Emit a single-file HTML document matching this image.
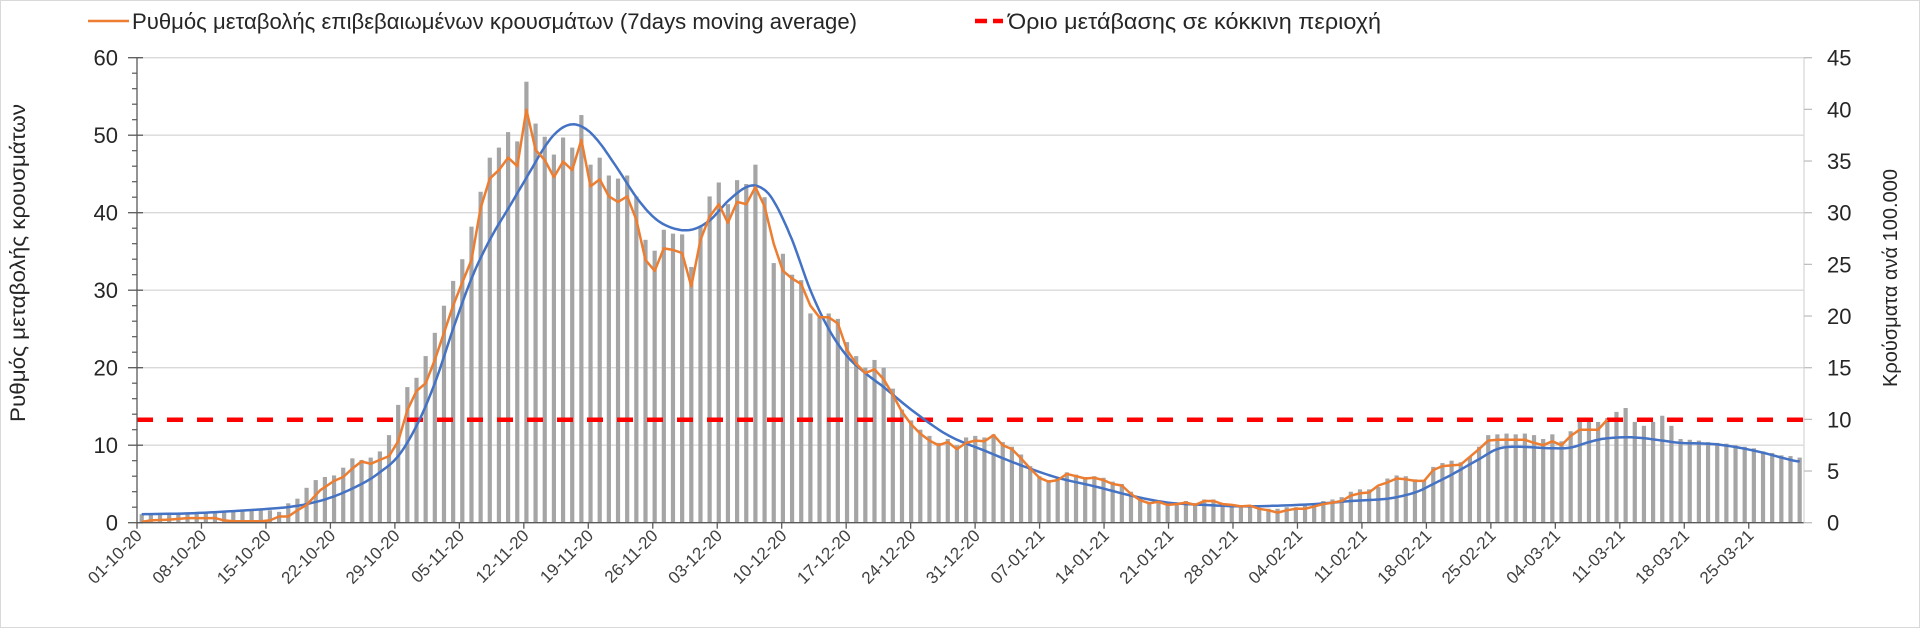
<!DOCTYPE html>
<html><head><meta charset="utf-8">
<style>
html,body{margin:0;padding:0;background:#fff;}
svg{display:block;font-family:"Liberation Sans",sans-serif;}
</style></head>
<body>
<svg id="c" width="1920" height="628" xmlns="http://www.w3.org/2000/svg">
<rect x="0.5" y="0.5" width="1919" height="627" fill="#fff" stroke="#d9d9d9"/>
<g id="grid"></g>
<g id="bars"></g>
<line x1="137" y1="419.7" x2="1804" y2="419.7" stroke="#ff0000" stroke-width="4.5" stroke-dasharray="16,14"/>
<polyline id="blue" fill="none" stroke="#4472c4" stroke-width="2.5" stroke-linejoin="round"/>
<polyline id="orange" fill="none" stroke="#ed7d31" stroke-width="2.5" stroke-linejoin="round"/>
<g id="axes"></g>
<line x1="88" y1="21" x2="129" y2="21" stroke="#ed7d31" stroke-width="2.5"/>
<text x="132" y="29" font-size="22" fill="#262626" textLength="725" lengthAdjust="spacingAndGlyphs">Ρυθμός μεταβολής επιβεβαιωμένων κρουσμάτων (7days moving average)</text>
<line x1="975" y1="21" x2="1003" y2="21" stroke="#ff0000" stroke-width="4.5" stroke-dasharray="12,6"/>
<text x="1008" y="29" font-size="22" fill="#262626" textLength="373" lengthAdjust="spacingAndGlyphs">Όριο μετάβασης σε κόκκινη περιοχή</text>
<text transform="translate(25,263) rotate(-90)" text-anchor="middle" font-size="21" fill="#262626" textLength="318" lengthAdjust="spacingAndGlyphs">Ρυθμός μεταβολής κρουσμάτων</text>
<text transform="translate(1897,278) rotate(-90)" text-anchor="middle" font-size="20" fill="#262626">Κρούσματα ανά 100.000</text>
</svg>
<script>
var NS="http://www.w3.org/2000/svg";
function el(p,t,a,txt){var e=document.createElementNS(NS,t);for(var k in a)e.setAttribute(k,a[k]);if(txt!==undefined)e.textContent=txt;document.getElementById(p).appendChild(e);return e;}
var Y0=522.7,PU=7.75;
function y(v){return Y0-v*PU;}
function bx(i){return 141.7+9.16*i;}
var bars=[1.1,1.1,1.1,1.2,1.2,1.3,1.3,1.4,1.4,1.5,1.5,1.5,1.6,1.6,
1.6,1.4,2.5,3.1,4.5,5.5,5.9,6.1,7.1,8.3,8.1,8.4,9.2,11.3,15.2,17.5,18.7,21.5,24.5,28,31.2,34,38.2,42.7,47.1,48.4,50.4,49.2,56.9,51.5,49.8,47.5,49.7,48.4,52.6,46.2,47.1,44.8,44.4,44.8,42.1,36.5,35.1,37.8,37.3,37.2,33,38.2,42.1,43.9,41.1,44.2,43.7,46.2,42.0,33.5,34.7,32,31.3,27,26.5,27,26.3,23.3,21.5,20,21,20,17.3,14.6,13.2,12,11.2,10.3,10.8,10,11,11.2,11,11.4,10.4,9.8,8.8,7.3,6,5.5,5.8,6.5,6.2,5.9,6,5.8,5.3,5,4,3.2,2.7,2.9,2.5,2.3,2.8,2.3,3,3,2.4,2.4,2.2,2.2,1.8,1.8,1.8,2,2,2.2,2.4,2.8,3,3.3,4,4.3,4.3,4.6,5.7,6.1,6.0,5.6,5.5,7.2,7.7,8,7.8,8.5,9.8,11.3,11.4,11.5,11.4,11.5,11.3,10.8,11.4,10.5,11.8,13,13,13,13.5,14.3,14.8,13,12.5,13,13.8,12.5,10.8,10.7,10.6,10.4,10.3,10.2,10,9.8,9.6,9.2,9,8.7,8.6,8.4];
for(var v=10;v<=60;v+=10)el("grid","line",{x1:137,x2:1804,y1:y(v),y2:y(v),stroke:"#d9d9d9","stroke-width":1.3});
bars.forEach(function(v,i){el("bars","rect",{x:bx(i)-2.1,y:y(v),width:4.2,height:v*PU,fill:"#a5a5a5"});});
var blueK=[[0,1.1],[5,1.2],[10,1.5],[15,1.9],[18,2.4],[21,3.4],[24,5.0],[26,6.5],[28,8.6],[30,12.5],[32,18],[34,25],[36,31.5],[38,36.5],[40,40.5],[42,44.5],[44,48.5],[45.5,50.6],[47,51.4],[48.5,50.8],[50,49],[52,45.6],[54,42],[56,39.3],[58,38],[60,37.8],[62,39],[64,41.5],[66,43.3],[67.5,43.3],[69,41.5],[71,36.5],[73,30],[75,25],[77,21.5],[79,19.3],[81,17.5],[84,14.6],[88,11.3],[92,9.3],[96,7.4],[100,5.8],[104,4.7],[108,3.5],[112,2.6],[116,2.3],[120,2.1],[124,2.2],[128,2.4],[132,2.8],[136,3.1],[139,3.9],[141,5],[143,6.2],[146,8.2],[148,9.5],[150,9.8],[154,9.6],[156,9.7],[158,10.4],[160,10.9],[163,11.0],[166,10.6],[168,10.3],[172,10.1],[176,9.3],[180,8.1],[181,7.9]];
function pts(keys){return keys.map(function(p){return bx(p[0]).toFixed(1)+","+y(p[1]).toFixed(1);}).join(" ");}
function smooth(k){var o=[];for(var i=0;i<k.length-1;i++){var p0=k[Math.max(0,i-1)],p1=k[i],p2=k[i+1],p3=k[Math.min(k.length-1,i+2)];for(var s=0;s<8;s++){var t=s/8,t2=t*t,t3=t2*t;var cr=function(a,b,c,d){return 0.5*((2*b)+(-a+c)*t+(2*a-5*b+4*c-d)*t2+(-a+3*b-3*c+d)*t3);};o.push([cr(p0[0],p1[0],p2[0],p3[0]),cr(p0[1],p1[1],p2[1],p3[1])]);}}o.push(k[k.length-1]);return o;}
document.getElementById("blue").setAttribute("points",pts(smooth(blueK)));
var orK=[[0,0.1],[1,0.3],[3,0.4],[5,0.6],[8,0.6],[9,0.3],[10,0.2],[13,0.2],[14,0.3],[15,0.8],[16,0.8],[17,1.6],[18,2.3],[19.5,4.2],[21,5.4],[22,5.9],[23,7.0],[24,7.9],[25,7.6],[26,8.1],[27,8.6],[28,10.5],[29,14.5],[30,17],[31,18],[32,21],[33,24.5],[34,28],[35,31],[36,33.9],[37,40.6],[38,44.4],[39,45.5],[40,47.1],[41,46.0],[42,53.3],[43,48.1],[44,46.8],[45,44.6],[46,46.6],[47,45.5],[48,49.4],[49,43.4],[50,44.3],[51,42.1],[52,41.4],[53,42.1],[54,39.1],[55,33.9],[56,32.5],[57,35.4],[58,35.2],[59,34.8],[60,30.5],[61,36.5],[62,39.5],[63,41.1],[64,38.7],[65,41.4],[66,41.1],[67,43.3],[68,40.8],[69,36],[70,32.5],[71,31.5],[72,30.8],[73,28],[74,26.5],[75,26.5],[76,25.7],[77,22.3],[78,20.5],[79,19.3],[80,19.8],[81,18.5],[82,16.5],[83,14.3],[84,12.7],[85,11.5],[86,10.6],[87,10],[88,10.4],[89,9.5],[90,10.3],[91,10.6],[92,10.5],[93,11.3],[94,10],[95,9.5],[96,8.3],[97,7],[98,5.8],[99,5.3],[100,5.5],[101,6.3],[102,6],[103,5.7],[104,5.8],[105,5.5],[106,5],[107,4.8],[108,3.7],[109,2.9],[110,2.5],[111,2.7],[112,2.3],[113,2.4],[114,2.6],[115,2.3],[116,2.8],[117,2.8],[118,2.4],[119,2.3],[120,2.1],[121,2.2],[122,1.8],[123,1.6],[124,1.3],[125,1.6],[126,1.8],[127,1.8],[128,2.1],[129,2.4],[130,2.6],[131,2.8],[132,3.5],[133,3.8],[134,3.9],[135,4.8],[136,5.2],[137,5.7],[138,5.6],[139,5.4],[140,5.4],[141,6.8],[142,7.3],[143,7.4],[144,7.5],[145,8.5],[146,9.5],[147,10.6],[148,10.7],[149,10.7],[150,10.7],[151,10.7],[152,10.3],[153,10.0],[154,10.5],[155,10.0],[156,11.2],[157,12.0],[158,12.0],[159,12.0],[160,13.3]];
document.getElementById("orange").setAttribute("points",pts(orK));
el("axes","line",{x1:137,x2:137,y1:57.7,y2:Y0,stroke:"#595959","stroke-width":1.3});
el("axes","line",{x1:137,x2:1804,y1:Y0,y2:Y0,stroke:"#595959","stroke-width":1.3});
el("axes","line",{x1:1804,x2:1804,y1:57.7,y2:Y0,stroke:"#d9d9d9","stroke-width":1.3});
for(var v=0;v<=60;v+=2){var yy=y(v);if(v%10==0){el("axes","line",{x1:128,x2:143,y1:yy,y2:yy,stroke:"#595959","stroke-width":1.3});el("axes","text",{x:118,y:yy+8,"text-anchor":"end","font-size":22,fill:"#262626"},String(v));}else el("axes","line",{x1:132,x2:137,y1:yy,y2:yy,stroke:"#595959","stroke-width":1.2});}
for(var r=0;r<=45;r+=5){var yy=Y0-r*PU*60/45;el("axes","line",{x1:1804,x2:1812,y1:yy,y2:yy,stroke:"#bfbfbf","stroke-width":1.3});el("axes","text",{x:1827,y:yy+8,"font-size":22,fill:"#262626"},String(r));}
var labs=["01-10-20","08-10-20","15-10-20","22-10-20","29-10-20","05-11-20","12-11-20","19-11-20","26-11-20","03-12-20","10-12-20","17-12-20","24-12-20","31-12-20","07-01-21","14-01-21","21-01-21","28-01-21","04-02-21","11-02-21","18-02-21","25-02-21","04-03-21","11-03-21","18-03-21","25-03-21"];
labs.forEach(function(l,k){var x=137+9.21*7*k;el("axes","line",{x1:x,x2:x,y1:Y0,y2:Y0+6,stroke:"#595959","stroke-width":1.3});el("axes","text",{transform:"translate("+(x+6)+","+(Y0+14)+") rotate(-45)","text-anchor":"end","font-size":17,fill:"#404040"},l);});
</script>
</body></html>
